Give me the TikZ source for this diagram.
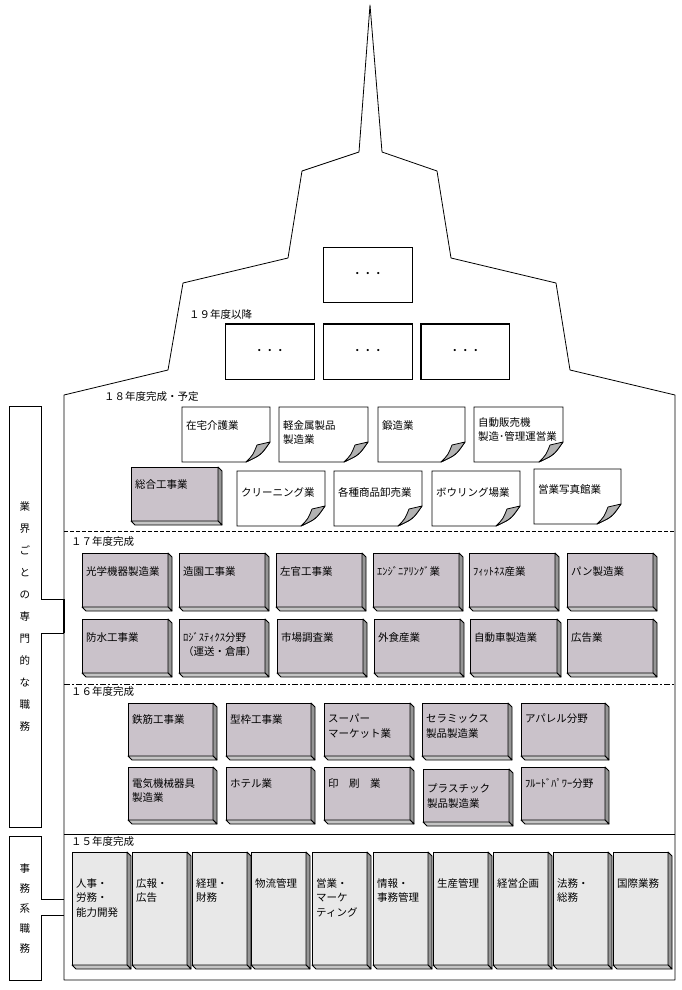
\documentclass[tikz,border=0pt]{standalone}
\usepackage{fontspec}
\setmainfont{Noto Sans CJK JP}

\definecolor{facegray}{RGB}{202,194,202}
\definecolor{facepale}{RGB}{232,232,232}
\definecolor{sidegray}{RGB}{150,150,150}
\definecolor{undergray}{RGB}{196,196,196}
\definecolor{curlgray}{RGB}{178,178,178}

\tikzset{
  thinline/.style={line width=0.8pt},
  face/.style={draw, thinline, fill=facegray, inner sep=0pt, outer sep=0pt, anchor=north west},
  paleface/.style={face, fill=facepale},
  sideface/.style={draw, thinline, fill=sidegray, line join=round},
  underface/.style={draw, thinline, fill=undergray, line join=round},
  boxtext/.style={anchor=north west, inner sep=0pt, align=left, font=\fontsize{10.5}{14.5}\selectfont},
  notearea/.style={inner sep=0pt, outer sep=0pt, anchor=north west},
  futurebox/.style={draw, thinline, fill=white, inner sep=0pt, anchor=north west, minimum height=55pt, font=\fontsize{10.5}{12}\selectfont},
  yearlabel/.style={anchor=west, inner sep=0pt, font=\fontsize{10.5}{12}\selectfont},
  sidelabel/.style={draw, thinline, fill=white, minimum width=32pt, inner sep=0pt, align=center},
}

% 3D block: [style]{name}{x,y}{width}{height}{text drop}{text}
\newcommand{\blockbox}[7][face]{%
  \node[#1, minimum width=#4pt, minimum height=#5pt] (#2) at (#3) {};
  \draw[sideface] (#2.north east) -- ++(4,4) -- ([shift={(4,4)}]#2.south east) -- (#2.south east) -- cycle;
  \draw[underface] (#2.south west) -- (#2.south east) -- ([shift={(4,4)}]#2.south east) -- ([shift={(4,4)}]#2.south west) -- cycle;
  \node[boxtext] (#2-txt) at ([shift={(4,#6)}]#2.north west) {#7};
}

% note with curled corner: {name}{x,y}{width}{height}{text drop}{text}
\newcommand{\curlnote}[6]{%
  \node[notearea, minimum width=#3pt, minimum height=#4pt] (#1) at (#2) {};
  \draw[thinline, fill=white] (#1.north west) -- (#1.north east) -- ([shift={(0,-20)}]#1.south east)
    .. controls ([shift={(-9,-7)}]#1.south east) .. ([shift={(-24,0)}]#1.south east) -- (#1.south west) -- cycle;
  \draw[thinline, fill=curlgray, line join=round] ([shift={(0,-20)}]#1.south east)
    .. controls ([shift={(-9,-7)}]#1.south east) .. ([shift={(-24,0)}]#1.south east)
    .. controls ([shift={(-17,-7)}]#1.south east) .. ([shift={(-13,-17)}]#1.south east) -- cycle;
  \node[boxtext] (#1-txt) at ([shift={(4,#5)}]#1.north west) {#6};
}

\begin{document}
\begin{tikzpicture}[x=1pt,y=-1pt]
  \fill[white] (0,0) rectangle (682,990);
  \useasboundingbox (0,0) rectangle (682,990);

  % building outline
  \draw[thinline, line join=round] (64,395) -- (168,370) -- (183,283) -- (288,258) -- (302,171) -- (359,152)
    -- (370,5) -- (382,152) -- (437,171) -- (451,258) -- (556,283) -- (570,370) -- (675,395)
    -- (675,980) -- (64,980) -- cycle;
  \draw[thinline, dash pattern=on 4pt off 2pt] (64,531) -- (675,531);
  \draw[thinline, dash pattern=on 6pt off 2pt on 2pt off 2pt] (64,684) -- (675,684);
  \draw[thinline] (64,834) -- (675,834);

  \coordinate (tabA1) at (64,599);
  \coordinate (tabA2) at (64,633);
  \coordinate (tabB1) at (64,899);
  \coordinate (tabB2) at (64,915);

  % side labels
  \node[sidelabel, minimum height=421pt, font=\fontsize{10.5}{22}\selectfont] (gyokai) at (25,616.5)
    {業\\界\\ご\\と\\の\\専\\門\\的\\な\\職\\務};
  \node[sidelabel, minimum height=144pt, font=\fontsize{10.5}{20}\selectfont] (jimu) at (25,908)
    {事\\務\\系\\職\\務};
  \fill[white] ([xshift=-1pt]gyokai.east |- tabA1) rectangle ([xshift=1pt]gyokai.east |- tabA2);
  \draw[thinline] (gyokai.east |- tabA1) -- (tabA1);
  \draw[thinline] (gyokai.east |- tabA2) -- (tabA2);
  \draw[line width=1.6pt] (tabA1) -- (tabA2);
  \fill[white] ([xshift=-1pt]jimu.east |- tabB1) rectangle ([xshift=1pt]jimu.east |- tabB2);
  \draw[thinline] (jimu.east |- tabB1) -- (tabB1);
  \draw[thinline] (jimu.east |- tabB2) -- (tabB2);

  % year labels
  \node[yearlabel] (y19) at (189,315) {１９年度以降};
  \node[yearlabel] (y18) at (104,397) {１８年度完成・予定};
  \node[yearlabel] (y17) at (71,542) {１７年度完成};
  \node[yearlabel] (y16) at (71,692) {１６年度完成};
  \node[yearlabel] (y15) at (71,842) {１５年度完成};

  % after 19
  \node[futurebox, minimum width=89pt] (fut0) at (323,247) {・・・};
  \node[futurebox, minimum width=89pt] (fut1) at (225,324) {・・・};
  \node[futurebox, minimum width=89pt] (fut2) at (323,324) {・・・};
  \node[futurebox, minimum width=88pt] (fut3) at (421,324) {・・・};
  \draw[line width=1.6pt] (fut1.north west) -- (fut1.north east);
  \draw[line width=1.6pt] (fut2.north west) -- (fut2.north east);
  \draw[line width=1.6pt] (fut3.south west) -- (fut3.north west) -- (fut3.north east);

  % 18
  \curlnote{zaitaku}{182,407}{88}{55}{13}{在宅介護業}
  \curlnote{keikin}{279,407}{89}{55}{13}{軽金属製品\\製造業}
  \curlnote{tanzo}{378,407}{87}{55}{13}{鍛造業}
  \curlnote{jihanki}{474,407}{89}{55}{10}{自動販売機\\製造･管理運営業}
  \blockbox{sogo}{131,467}{87}{54}{12}{総合工事業}
  \curlnote{cleaning}{237,471}{88}{55}{16}{クリーニング業}
  \curlnote{oroshi}{334,471}{88}{55}{16}{各種商品卸売業}
  \curlnote{bowling}{432,471}{88}{55}{16}{ボウリング場業}
  \curlnote{shashin}{534,469}{87}{55}{15}{営業写真館業}

  % 17
  \blockbox{kogaku}{82,553}{86}{54}{13}{光学機器製造業}
  \blockbox{zoen}{179,553}{86}{54}{13}{造園工事業}
  \blockbox{sakan}{276,553}{86}{54}{13}{左官工事業}
  \blockbox{engi}{373,553}{86}{54}{13}{ｴﾝｼﾞﾆｱﾘﾝｸﾞ業}
  \blockbox{fitness}{469,553}{86}{54}{13}{ﾌｨｯﾄﾈｽ産業}
  \blockbox{pan}{567,553}{86}{54}{13}{パン製造業}
  \blockbox{bosui}{82,619}{86}{54}{13}{防水工事業}
  \blockbox{logi}{179,619}{86}{54}{13}{ﾛｼﾞｽﾃｨｸｽ分野\\（運送・倉庫）}
  \blockbox{shijo}{277,619}{86}{54}{13}{市場調査業}
  \blockbox{gaishoku}{374,619}{86}{54}{13}{外食産業}
  \blockbox{jidosha}{470,619}{87}{54}{13}{自動車製造業}
  \blockbox{kokoku}{567,619}{86}{54}{13}{広告業}

  % 16
  \blockbox{tekkin}{128,703}{85}{53}{11}{鉄筋工事業}
  \blockbox{katawaku}{226,703}{85}{53}{11}{型枠工事業}
  \blockbox{super}{324,703}{86}{53}{11}{スーパー\\マーケット業}
  \blockbox{ceramic}{422,703}{86}{53}{11}{セラミックス\\製品製造業}
  \blockbox{apparel}{521,703}{84}{53}{11}{アパレル分野}
  \blockbox{denki}{128,767}{85}{53}{11}{電気機械器具\\製造業}
  \blockbox{hotel}{226,767}{85}{53}{11}{ホテル業}
  \blockbox{insatsu}{324,767}{86}{53}{11}{印　刷　業}
  \blockbox{plastic}{423,769}{86}{53}{15}{プラスチック\\製品製造業}
  \blockbox{fluid}{521,767}{84}{53}{11}{ﾌﾙｰﾄﾞﾊﾟﾜｰ分野}

  % 15
  \blockbox[paleface]{jinji}{72,852}{55}{113}{26}{人事・\\労務・\\能力開発}
  \blockbox[paleface]{koho}{132,852}{55}{113}{26}{広報・\\広告}
  \blockbox[paleface]{keiri}{192,852}{55}{113}{26}{経理・\\財務}
  \blockbox[paleface]{butsuryu}{251,852}{55}{113}{26}{物流管理}
  \blockbox[paleface]{eigyo}{312,852}{55}{113}{26}{営業・\\マーケ\\ティング}
  \blockbox[paleface]{joho}{373,852}{55}{113}{26}{情報・\\事務管理}
  \blockbox[paleface]{seisan}{433,852}{55}{113}{26}{生産管理}
  \blockbox[paleface]{kikaku}{493,852}{55}{113}{26}{経営企画}
  \blockbox[paleface]{homu}{553,852}{55}{113}{26}{法務・\\総務}
  \blockbox[paleface]{kokusai}{613,852}{55}{113}{26}{国際業務}
\end{tikzpicture}
\end{document}
